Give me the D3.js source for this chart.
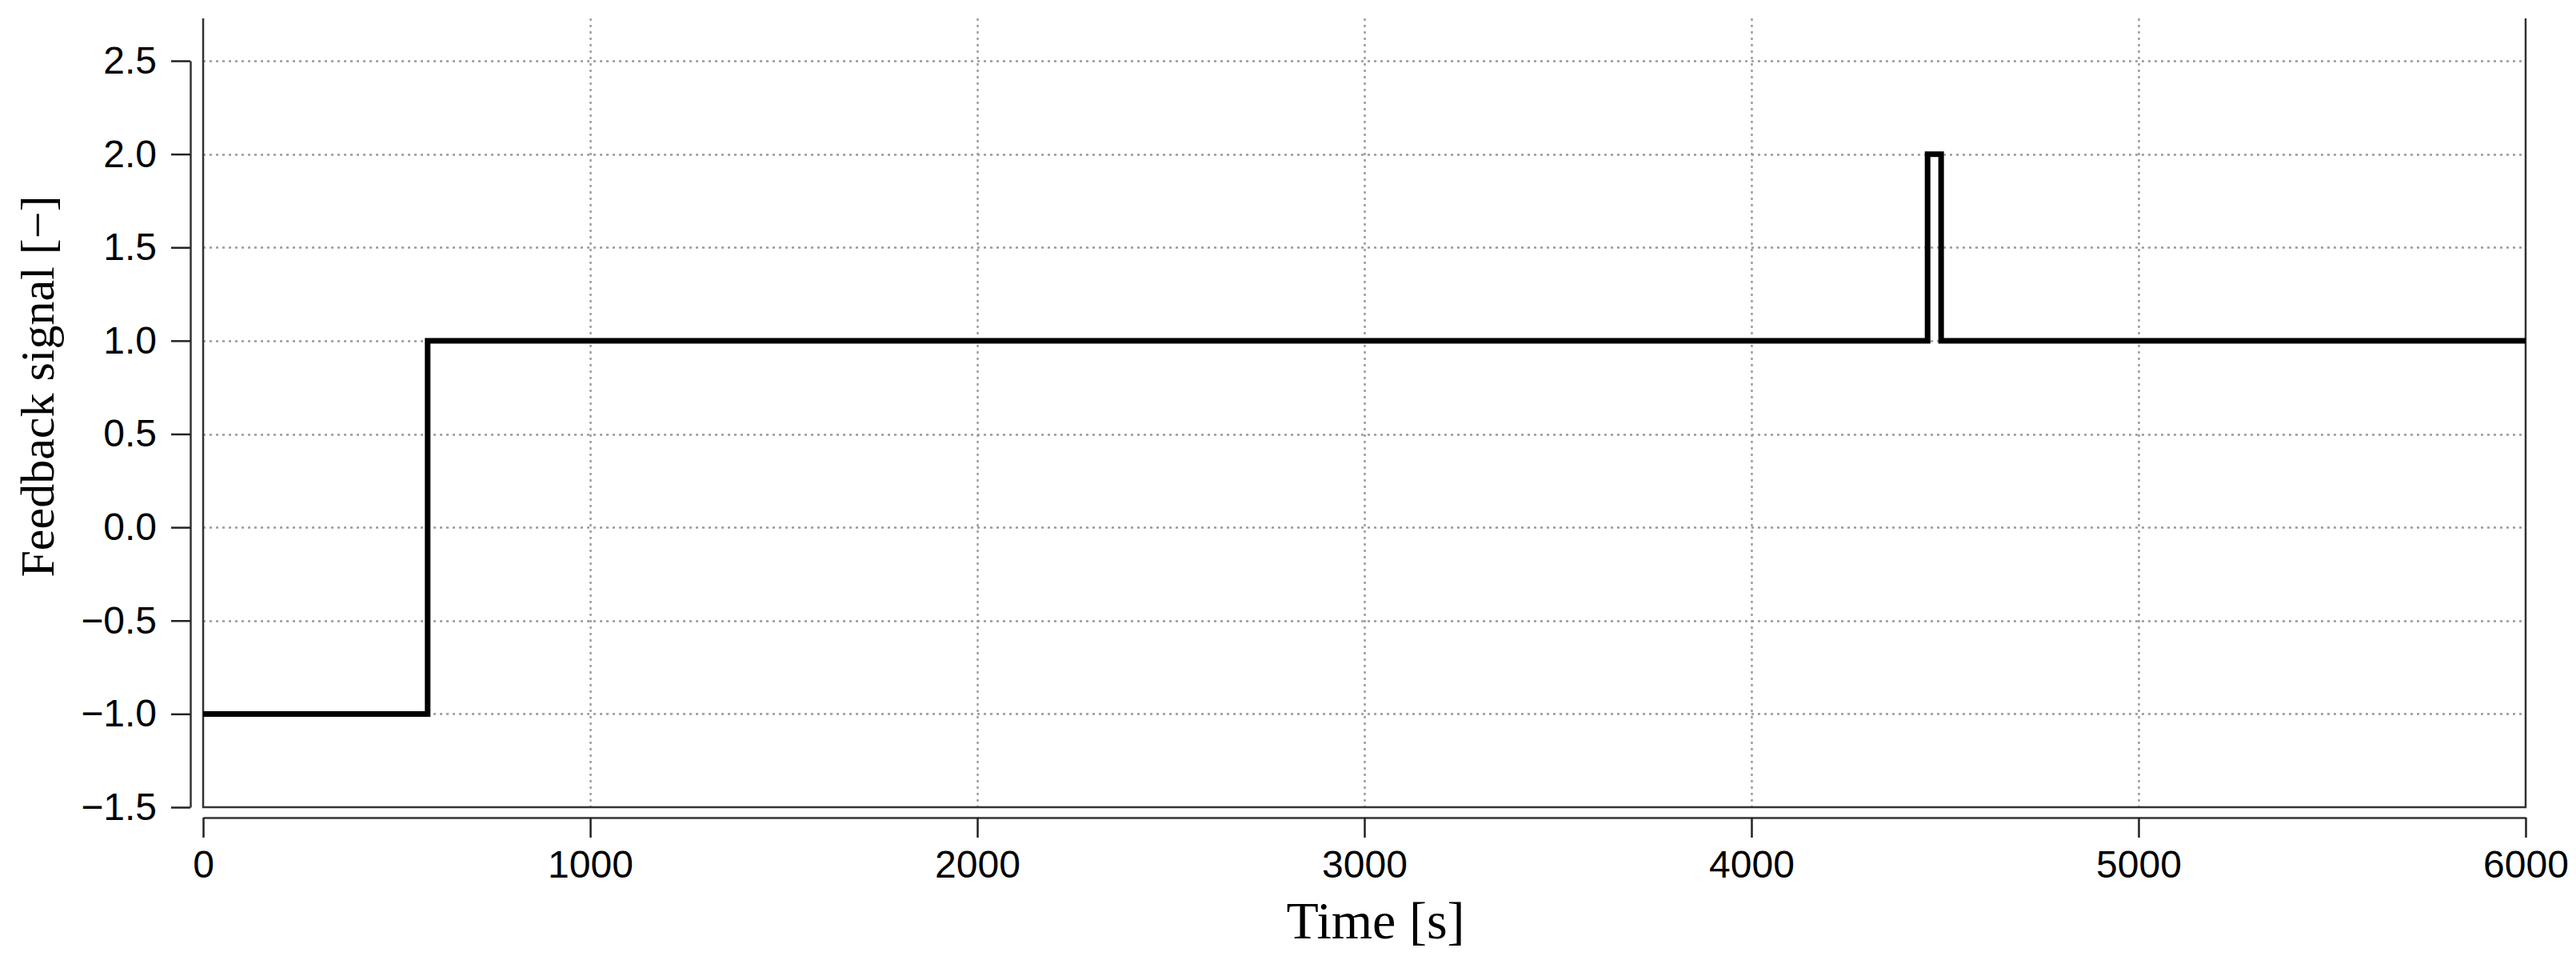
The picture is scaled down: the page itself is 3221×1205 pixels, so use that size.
<!DOCTYPE html>
<html>
<head>
<meta charset="utf-8">
<script src="https://cdn.jsdelivr.net/npm/d3@7"></script>
<style>
  html, body { margin: 0; padding: 0; background: #fff; }
  svg { display: block; }
</style>
</head>
<body>
<svg id="chart" width="3221" height="1205"></svg>
<script>
// ---- data ----
const stepTimes  = [0, 580, 4455, 4490, 6000];   // s (change instants + end)
const stepValues = [-1, 1, 2, 1, 1];             // feedback signal [-]
const xTicks = [0, 1000, 2000, 3000, 4000, 5000, 6000];
const yTicks = [-1.5, -1.0, -0.5, 0.0, 0.5, 1.0, 1.5, 2.0, 2.5];
const xTitle = "Time [s]";
const yTitle = "Feedback signal [\u2212]";

// ---- layout ----
const W = 3221, H = 1205;
const plotLeft = 254, plotRight = 3158, plotTop = 23, plotBottom = 1009;
const yTopTick = 76;

const svg = d3.select("#chart");

const x = d3.scaleLinear().domain([0, 6000]).range([plotLeft, plotRight]);
const y = d3.scaleLinear().domain([-1.5, 2.5]).range([plotBottom, yTopTick]);

// grid
const grid = svg.append("g").attr("stroke", "#999").attr("stroke-width", 2.4)
  .attr("stroke-dasharray", "3,5").attr("fill", "none");
grid.selectAll("line.h").data(yTicks.filter(d => d > -1.5)).join("line")
  .attr("x1", plotLeft).attr("x2", plotRight)
  .attr("y1", d => Math.round(y(d)) + 0.5).attr("y2", d => Math.round(y(d)) + 0.5);
grid.selectAll("line.v").data(xTicks.filter(d => d > 0 && d < 6000)).join("line")
  .attr("y1", plotTop).attr("y2", plotBottom)
  .attr("x1", d => Math.round(x(d)) + 0.5).attr("x2", d => Math.round(x(d)) + 0.5);

// plot frame (left, bottom, right; no top)
svg.append("path")
  .attr("d", `M${plotLeft},${plotTop}V${plotBottom}H${plotRight}V${plotTop}`)
  .attr("fill", "none").attr("stroke", "#333").attr("stroke-width", 2.5);

// signal
const pts = stepTimes.map((t, i) => [t, stepValues[i]]);
const line = d3.line().x(d => x(d[0])).y(d => y(d[1])).curve(d3.curveStepAfter);
svg.append("path").datum(pts)
  .attr("d", line)
  .attr("fill", "none").attr("stroke", "#000").attr("stroke-width", 7)
  .attr("stroke-linejoin", "miter");

// axes
const fmtY = d3.format(".1f");
const yAxis = d3.axisLeft(y).tickValues(yTicks).tickFormat(fmtY)
  .tickSize(24).tickSizeOuter(0).tickPadding(18);
const gy = svg.append("g").attr("transform", `translate(238,0)`).call(yAxis);

const xAxis = d3.axisBottom(x).tickValues(xTicks).tickFormat(d3.format("d"))
  .tickSize(25).tickSizeOuter(0).tickPadding(16);
const gx = svg.append("g").attr("transform", `translate(0,1022)`).call(xAxis);

[gx, gy].forEach(g => {
  g.select(".domain").attr("stroke", "#333").attr("stroke-width", 2.5);
  g.selectAll(".tick line").attr("stroke", "#222").attr("stroke-width", 2.5);
  g.selectAll(".tick text").attr("fill", "#000")
    .style("font-family", "'Liberation Sans', Arial, sans-serif")
    .style("font-size", "48px");
});

// titles
svg.append("text")
  .attr("x", 1720).attr("y", 1173)
  .attr("text-anchor", "middle")
  .style("font-family", "'Liberation Serif', 'Times New Roman', serif")
  .style("font-size", "66px")
  .text(xTitle);

svg.append("text")
  .attr("transform", "translate(67,483) rotate(-90)")
  .attr("text-anchor", "middle")
  .style("font-family", "'Liberation Serif', 'Times New Roman', serif")
  .style("font-size", "60px")
  .text(yTitle);
</script>
</body>
</html>
